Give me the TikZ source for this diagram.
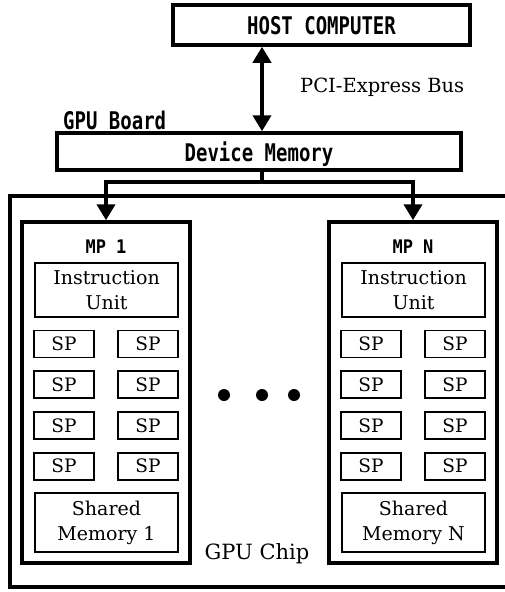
\documentclass[tikz,border=0pt]{standalone}
\usepackage{fontspec}
\usepackage{graphicx}
\usetikzlibrary{arrows.meta,positioning}
\setmainfont{DejaVu Serif}
\newfontfamily\gothic{DejaVu Sans Mono}
\newcommand{\tall}[1]{\scalebox{1}[1.28]{#1}}

\begin{document}
\begin{tikzpicture}[x=1pt, y=-1pt,
    outerbox/.style={draw, line width=3.5pt, inner sep=0pt},
    innerbox/.style={draw, line width=1.8pt, inner sep=0pt, align=center, font=\fontsize{19}{25}\selectfont},
    spbox/.style={innerbox, minimum width=60pt, minimum height=27pt, font=\fontsize{18.5}{24}\selectfont},
    gothictext/.style={font=\gothic\bfseries\fontsize{19}{22}\selectfont, text depth=0pt},
    seriftext/.style={font=\fontsize{19.5}{26}\selectfont},
    busline/.style={line width=4.5pt},
    bigtip/.style={-{Triangle[length=16pt,width=18pt]}}
  ]
    \useasboundingbox (0,0) rectangle (505,592);

    % Draw host and device memory
    \node[outerbox, gothictext, minimum width=297pt, minimum height=40pt] (host) at (321.5,25) {\tall{HOST COMPUTER}};
    \node[outerbox, gothictext, minimum width=404pt, minimum height=37pt] (devmem) at (259,151.5) {\tall{Device Memory}};

    % Add labels
    \node[seriftext, anchor=base west, inner sep=0pt] (pcie) at (300,92) {PCI-Express Bus};
    \node[gothictext, anchor=base west, inner sep=0pt] (board) at (63,129) {\tall{GPU Board}};

    % Draw buses
    \coordinate (split) at (262,182);
    \draw[busline, {Triangle[length=16pt,width=18pt]}-{Triangle[length=16pt,width=18pt]}] (devmem.north -| split) -- (host.south -| split);
    \draw[busline] (devmem.south -| split) -- (split);

    % Draw GPU chip
    \draw[line width=3.5pt] (505,196) -| (10,587) -- (505,587);
    \node[seriftext, font=\fontsize{21}{26}\selectfont, anchor=base, inner sep=0pt] (chip) at (257,559) {GPU Chip};

    % Draw multiprocessors
    \foreach \m/\cx in {1/106, N/413} {
        \node[outerbox, minimum width=168pt, minimum height=341pt] (mp\m) at (\cx,392.5) {};
        \node[font=\gothic\bfseries\fontsize{17}{20}\selectfont, anchor=base, inner sep=0pt] (mplabel\m) at (\cx,253) {\scalebox{1}[1.1]{MP \m}};
        \node[innerbox, minimum width=143pt, minimum height=54pt] (iu\m) at ({\cx+0.5},290) {Instruction\\Unit};
        \foreach \r in {0,...,3} {
            \node[spbox] (spl\m-\r) at ({\cx-42},{344+40.7*\r}) {SP};
            \node[spbox] (spr\m-\r) at ({\cx+42},{344+40.7*\r}) {SP};
        }
        \node[innerbox, minimum width=143pt, minimum height=59pt] (sm\m) at ({\cx+0.5},522.5) {Shared\\Memory \m};
        \draw[busline, bigtip] (split) -| (mp\m.north);
    }

    % Draw dots
    \foreach \d/\dx in {1/224, 2/262, 3/294}
        \node[circle, fill, inner sep=0pt, minimum size=12pt] (dot\d) at (\dx,395) {};
\end{tikzpicture}
\end{document}
